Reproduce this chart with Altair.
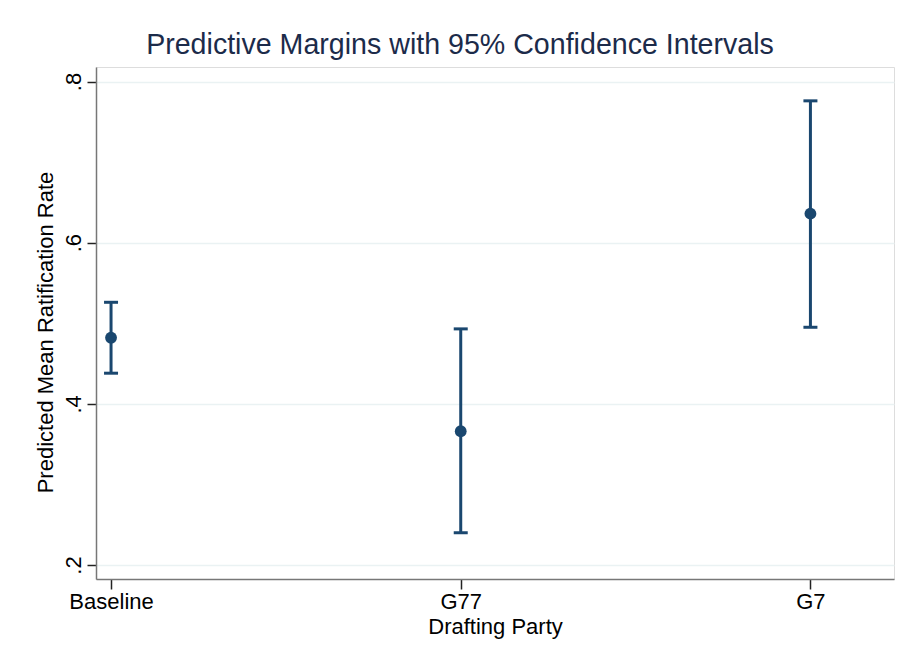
import altair as alt
import pandas as pd

categories = ["Baseline", "G77", "G7"]
positions = [0, 1, 2]
margins = [0.482, 0.366, 0.636]
lower = [0.438, 0.240, 0.495]
upper = [0.526, 0.493, 0.776]

df = pd.DataFrame({
    "party": categories,
    "pos": positions,
    "margin": margins,
    "lower": lower,
    "upper": upper,
})

navy = "#1a476f"
font = "Liberation Sans"

x_scale = alt.Scale(domain=[-0.043, 2.239], nice=False, zero=False)
y_scale = alt.Scale(domain=[0.1826, 0.818], nice=False, zero=False)

label_expr_x = "datum.value == 0 ? 'Baseline' : (datum.value == 1 ? 'G77' : 'G7')"

x_enc = alt.X(
    "pos:Q",
    scale=x_scale,
    title="Drafting Party",
    axis=alt.Axis(
        values=[0, 1, 2],
        labelExpr=label_expr_x,
        grid=False,
        tickSize=10,
        labelPadding=2,
        titlePadding=4,
    ),
)

y_axis = alt.Axis(
    values=[0.2, 0.4, 0.6, 0.8],
    labelExpr="replace(format(datum.value, '.1f'), '0.', '.')",
    labelAngle=270,
    grid=True,
    tickSize=9,
    labelPadding=2,
    titlePadding=5,
    titleY=265,
)

rules = alt.Chart(df).mark_rule(color=navy, strokeWidth=3).encode(
    x=x_enc,
    y=alt.Y("lower:Q", scale=y_scale, axis=y_axis, title="Predicted Mean Ratification Rate"),
    y2="upper:Q",
)

cap_top = alt.Chart(df).mark_tick(color=navy, thickness=3, size=14, orient="horizontal", opacity=1).encode(
    x=alt.X("pos:Q", scale=x_scale),
    y=alt.Y("upper:Q", scale=y_scale),
)

cap_bottom = alt.Chart(df).mark_tick(color=navy, thickness=3, size=14, orient="horizontal", opacity=1).encode(
    x=alt.X("pos:Q", scale=x_scale),
    y=alt.Y("lower:Q", scale=y_scale),
)

points = alt.Chart(df).mark_point(filled=True, color=navy, size=140, opacity=1).encode(
    x=alt.X("pos:Q", scale=x_scale),
    y=alt.Y("margin:Q", scale=y_scale),
)

chart = (
    alt.layer(rules, cap_top, cap_bottom, points)
    .properties(
        width=798,
        height=512,
        title=alt.TitleParams(
            "Predictive Margins with 95% Confidence Intervals",
            fontSize=28.6,
            font=font,
            fontWeight="normal",
            color="#1c2b4a",
            baseline="alphabetic",
            offset=13,
            dx=-35,
            dy=29,
        ),
        autosize=alt.AutoSizeParams(type="none"),
        padding={"left": 88, "top": 59, "right": 2, "bottom": 85},
    )
    .configure_view(stroke=None)
    .configure(background="white")
    .configure_axis(
        labelFont=font,
        titleFont=font,
        labelFontSize=22,
        titleFontSize=22,
        titleFontWeight="normal",
        labelColor="#000000",
        titleColor="#000000",
        domainColor="#777777",
        domainWidth=1.5,
        tickColor="#222222",
        tickWidth=1.5,
        gridColor="#eaf2f3",
        gridWidth=1.5,
    )
)

chart.save("out.html", embed_options={"renderer": "svg", "actions": False})
